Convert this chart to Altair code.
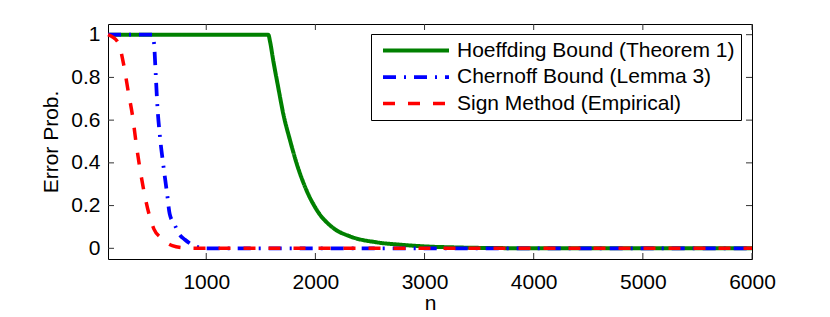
import altair as alt
import pandas as pd

series_names = ["Hoeffding Bound (Theorem 1)", "Chernoff Bound (Lemma 3)", "Sign Method (Empirical)"]

hoeff_n = [100, 1569, 1584, 1615, 1660, 1706, 1768, 1829, 1905, 2012, 2164, 2317, 2562, 2775, 3000, 3300, 3700, 4200, 6000]
hoeff_p = [1, 1, 0.969, 0.876, 0.752, 0.629, 0.505, 0.396, 0.288, 0.180, 0.095, 0.056, 0.028, 0.017, 0.009, 0.004, 0.001, 0, 0]

chern_n = [100, 506, 521, 537, 552, 576, 607, 643, 665, 711, 751, 806, 904, 1000, 6000]
chern_p = [1, 1, 0.964, 0.817, 0.670, 0.523, 0.389, 0.249, 0.161, 0.110, 0.068, 0.040, 0.009, 0, 0]

sign_n = [100, 192, 247, 286, 326, 357, 390, 430, 482, 521, 588, 689, 796, 900, 6000]
sign_p = [1, 0.964, 0.851, 0.732, 0.616, 0.495, 0.381, 0.265, 0.149, 0.090, 0.048, 0.0125, 0.002, 0, 0]

x_ticks = [1000, 2000, 3000, 4000, 5000, 6000]
y_ticks = [0, 0.2, 0.4, 0.6, 0.8, 1]

colors = ["#008000", "#0000ff", "#ff0000"]
dashes = [[1, 0], [13, 8, 2, 8], [12, 13]]
widths = [4, 3.5, 4]

rows = []
for k, (name, ns, ps) in enumerate(zip(series_names, [hoeff_n, chern_n, sign_n], [hoeff_p, chern_p, sign_p])):
    for n, p in zip(ns, ps):
        rows.append({"series": name, "n": n, "p": p, "k": k})
df = pd.DataFrame(rows)

W, H = 644, 235
FONT = "Liberation Sans"
FS = 21

xscale = alt.Scale(domain=[100, 6000], nice=False, zero=False)
yscale = alt.Scale(domain=[-0.05, 1.05], nice=False, zero=False)

xaxis = alt.Axis(values=x_ticks, ticks=False, tickSize=0, domain=False, grid=False,
                 labelFontSize=FS, labelFont=FONT, labelColor="black", labelPadding=12,
                 labelFlush=False,
                 title="n", titleFontSize=FS, titleFont=FONT, titleFontWeight="normal",
                 titleColor="black", titlePadding=0, format="d")
yaxis = alt.Axis(values=y_ticks, ticks=False, tickSize=0, domain=False, grid=False,
                 labelFontSize=FS, labelFont=FONT, labelColor="black", labelPadding=8,
                 labelFlush=False,
                 title="Error Prob.", titleFontSize=FS, titleFont=FONT, titleFontWeight="normal",
                 titleColor="black", titlePadding=9, format="~g")

lines = alt.Chart(df).mark_line(interpolate="monotone", strokeCap="butt").encode(
    x=alt.X("n:Q", scale=xscale, axis=xaxis),
    y=alt.Y("p:Q", scale=yscale, axis=yaxis),
    color=alt.Color("series:N", scale=alt.Scale(domain=series_names, range=colors),
                    legend=alt.Legend(title=None)),
    strokeDash=alt.StrokeDash("series:N", scale=alt.Scale(domain=series_names, range=dashes),
                              legend=alt.Legend(title=None)),
    strokeWidth=alt.StrokeWidth("series:N", scale=alt.Scale(domain=series_names, range=widths),
                                legend=None),
    order=alt.Order("k:Q"),
)

xt = pd.DataFrame({"n": x_ticks})
yt = pd.DataFrame({"p": y_ticks})
tick_color = "#333333"

xt_bottom = alt.Chart(xt).mark_rule(color=tick_color, strokeWidth=1).encode(
    x=alt.X("n:Q", scale=xscale), y=alt.value(H), y2=alt.value(H - 6))
xt_top = alt.Chart(xt).mark_rule(color=tick_color, strokeWidth=1).encode(
    x=alt.X("n:Q", scale=xscale), y=alt.value(0), y2=alt.value(6))
yt_left = alt.Chart(yt).mark_rule(color=tick_color, strokeWidth=1).encode(
    y=alt.Y("p:Q", scale=yscale), x=alt.value(0), x2=alt.value(6))
yt_right = alt.Chart(yt).mark_rule(color=tick_color, strokeWidth=1).encode(
    y=alt.Y("p:Q", scale=yscale), x=alt.value(W), x2=alt.value(W - 6))

chart = alt.layer(xt_bottom, xt_top, yt_left, yt_right, lines).properties(
    width=W, height=H,
    autosize=alt.AutoSizeParams(type="none"),
    padding={"left": 100, "top": 16, "right": 70, "bottom": 60},
    background="white",
).configure_view(
    stroke="black", strokeWidth=1
).configure_legend(
    orient="none", legendX=263, legendY=10, padding=6,
    strokeColor="black", fillColor="white", cornerRadius=0,
    labelFontSize=FS, labelFont=FONT, labelColor="black", labelLimit=0,
    symbolType="stroke", symbolSize=4356, symbolStrokeWidth=4,
    clipHeight=21, rowPadding=4.5, labelOffset=6, symbolOffset=4,
)

chart.save("out.html", embed_options={"renderer": "svg", "actions": False})
